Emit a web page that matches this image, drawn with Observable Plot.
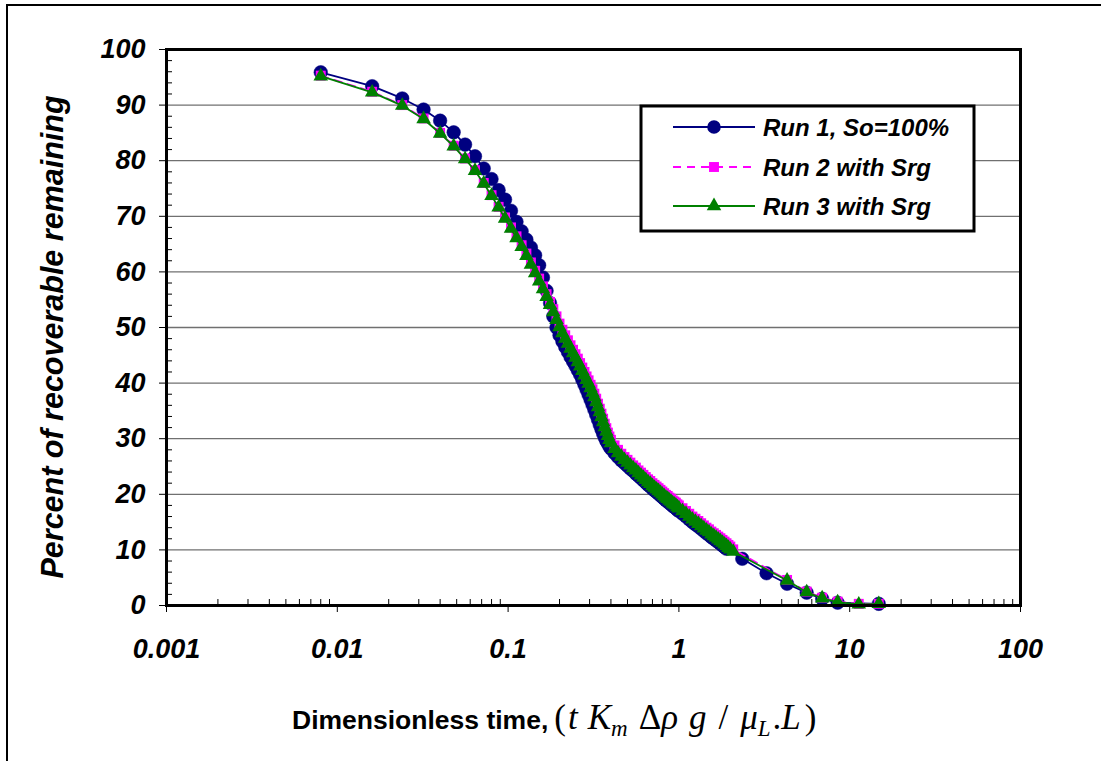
<!DOCTYPE html>
<html><head><meta charset="utf-8">
<script src="https://cdn.jsdelivr.net/npm/d3@7"></script>
<script src="https://cdn.jsdelivr.net/npm/@observablehq/plot@0.6"></script>
<style>
html,body{margin:0;padding:0;background:#fff;overflow:hidden;width:1101px;height:761px;}
#outer{position:absolute;left:6px;top:4px;width:1300px;height:1000px;border:2px solid #000;}
#chart{position:absolute;left:0;top:0;}
</style></head><body>
<div id="outer"></div>
<div id="chart"></div>
<script>
// ---- data ----
const time1 = [0.008,0.016,0.024,0.032,0.04,0.048,0.056,0.064,0.072,0.08,0.088,0.096,0.104,0.112,0.12,0.128,0.136,0.144,0.152,0.16,0.168,0.176,0.184,0.192,0.2,0.208,0.216,0.224,0.232,0.24,0.248,0.256,0.264,0.272,0.28,0.288,0.296,0.304,0.312,0.32,0.328,0.336,0.344,0.352,0.36,0.368,0.376,0.384,0.392,0.4,
  0.42,0.44,0.46,0.48,0.5,0.52,0.54,0.56,0.58,0.6,0.62,0.64,0.66,0.68,0.7,0.72,0.74,0.76,0.78,0.8,0.82,0.84,0.86,0.88,0.9,0.92,0.94,0.96,0.98,1.0,
  1.05,1.1,1.15,1.2,1.25,1.3,1.35,1.4,1.45,1.5,1.55,1.6,1.65,1.7,1.75,1.8,1.85,1.9,
  2.35,3.26,4.3,5.6,6.9,8.5,14.8];
const time23 = [0.008,0.016,0.024,0.032,0.04,0.048,0.056,0.064,0.072,0.08,0.088,0.096,0.104,0.112,0.12,0.128,0.136,0.144,0.152,0.16,0.168,0.176,0.184,0.192,0.2,0.208,0.216,0.224,0.232,0.24,0.248,0.256,0.264,0.272,0.28,0.288,0.296,0.304,0.312,0.32,0.328,0.336,0.344,0.352,0.36,0.368,0.376,0.384,0.392,0.4,
  0.42,0.44,0.46,0.48,0.5,0.52,0.54,0.56,0.58,0.6,0.62,0.64,0.66,0.68,0.7,0.72,0.74,0.76,0.78,0.8,0.82,0.84,0.86,0.88,0.9,0.92,0.94,0.96,0.98,1.0,
  1.05,1.1,1.15,1.2,1.25,1.3,1.35,1.4,1.45,1.5,1.55,1.6,1.65,1.7,1.75,1.8,1.85,1.9,1.95,2.0,
  2.08,4.3,5.6,6.9,8.5,11.3,14.8];
const run1Values = [95.9,93.4,91.2,89.2,87.2,85.1,82.9,80.8,78.6,76.7,
  74.7,73.0,71.0,69.0,67.3,65.8,64.4,63.0,61.2,59.0,
  56.6,54.4,52.0,50.0,48.6,47.5,46.5,45.6,44.7,43.9,
  43.1,42.3,41.5,40.6,39.7,38.8,37.9,37.0,36.1,35.2,
  34.3,33.4,32.5,31.7,30.9,30.2,29.6,29.1,28.6,28.2,
  27.4,26.7,26.1,25.6,25.1,24.6,24.2,23.7,23.3,22.9,
  22.5,22.1,21.7,21.4,21.0,20.7,20.4,20.1,19.8,19.5,
  19.2,18.9,18.7,18.4,18.2,17.9,17.7,17.5,17.2,17.0,
  16.5,16.0,15.5,15.0,14.6,14.2,13.8,13.4,13.0,12.7,
  12.3,12.0,11.7,11.4,11.1,10.8,10.5,10.2,
  8.4,5.8,3.9,2.3,1.2,0.5,0.3];
const run2Values = [95.3,92.4,90.0,87.6,85.0,82.7,80.4,78.3,76.0,73.8,
  71.7,69.8,68.0,66.4,64.8,63.3,61.7,60.2,58.8,57.4,
  56.0,54.6,53.3,52.0,50.7,49.6,48.6,47.7,46.8,46.0,
  45.2,44.4,43.6,42.8,42.0,41.2,40.5,39.7,38.9,38.1,
  37.2,36.3,35.4,34.5,33.6,32.7,31.9,31.1,30.4,29.8,
  28.8,28.0,27.3,26.7,26.2,25.7,25.2,24.8,24.3,23.9,
  23.5,23.1,22.7,22.4,22.0,21.7,21.4,21.1,20.8,20.5,
  20.2,19.9,19.7,19.4,19.2,18.9,18.7,18.5,18.2,18.0,
  17.5,17.0,16.5,16.0,15.6,15.2,14.8,14.4,14.0,13.7,
  13.3,13.0,12.7,12.4,12.1,11.8,11.5,11.2,10.9,10.6,
  10.1,4.6,2.5,1.4,0.7,0.3,0.3];
const run3Values = [95.2,92.3,89.9,87.5,84.9,82.6,80.3,78.2,75.9,73.7,
  71.6,69.6,67.8,66.1,64.5,62.9,61.3,59.8,58.3,56.9,
  55.5,54.1,52.8,51.4,50.1,49.0,48.0,47.1,46.2,45.4,
  44.6,43.8,43.0,42.2,41.4,40.6,39.9,39.1,38.3,37.5,
  36.6,35.7,34.8,33.9,33.0,32.1,31.3,30.5,29.8,29.2,
  28.2,27.4,26.8,26.2,25.7,25.2,24.7,24.3,23.8,23.4,
  23.0,22.6,22.2,21.9,21.5,21.2,20.9,20.6,20.3,20.0,
  19.7,19.4,19.2,18.9,18.7,18.4,18.2,18.0,17.7,17.5,
  17.0,16.5,16.0,15.5,15.1,14.7,14.3,13.9,13.5,13.2,
  12.8,12.5,12.2,11.9,11.6,11.3,11.0,10.7,10.4,10.1,
  9.7,4.5,2.4,1.3,0.6,0.2,0.3];
const seriesNames = ["Run 1, So=100%", "Run 2 with Srg", "Run 3 with Srg"];
const xTicks = [0.001, 0.01, 0.1, 1, 10, 100];
const xTickLabels = ["0.001", "0.01", "0.1", "1", "10", "100"];
const yTicks = [0, 10, 20, 30, 40, 50, 60, 70, 80, 90, 100];
const gridValues = [10, 20, 30, 40, 50, 60, 70, 80, 90];
const xMinorTicks = [2,3,4,5,6,7,8,9].flatMap(m => [0.001, 0.01, 0.1, 1, 10].map(d => m * d));
const yMinorTicks = d3.range(0, 101, 2).filter(v => v % 10 !== 0);

// ---- layout ----
const W = 1101, H = 761, mL = 166, mR = 81, mT = 49, mB = 156;
const innerW = W - mL - mR, innerH = H - mT - mB;
const navy = "#000080", magenta = "#FF00FF", green = "#008000";
const sans = "'Liberation Sans', Arial, sans-serif";
const serif = "'Liberation Serif', 'Times New Roman', serif";

const run1 = time1.map((t, i) => ({t, v: run1Values[i]}));
const run2 = time23.map((t, i) => ({t, v: run2Values[i]}));
const run3 = time23.map((t, i) => ({t, v: run3Values[i]}));

const plot = Plot.plot({
  width: W, height: H,
  marginLeft: mL, marginRight: mR, marginTop: mT, marginBottom: mB,
  style: {fontFamily: sans, fontSize: "27px", fontWeight: "bold", fontStyle: "italic", color: "#000", background: "transparent", overflow: "visible"},
  x: {type: "log", domain: [0.001, 100], label: null},
  y: {domain: [0, 100], label: null},
  marks: [
    Plot.ruleY(gridValues, {stroke: "#707070", strokeWidth: 1.3}),
    Plot.tickX(xMinorTicks, {x: d => d, stroke: "#000", strokeWidth: 1, insetTop: innerH - 6}),
    Plot.tickY(yMinorTicks, {y: d => d, stroke: "#000", strokeWidth: 1, insetRight: innerW - 6}),
    Plot.line(run1, {x: "t", y: "v", stroke: navy, strokeWidth: 1.8}),
    Plot.dot(run1, {x: "t", y: "v", r: 6.8, fill: navy, stroke: navy, strokeWidth: 0.5, symbol: "circle"}),
    Plot.line(run2, {x: "t", y: "v", stroke: magenta, strokeWidth: 1.8, strokeDasharray: "8,6"}),
    Plot.dot(run2, {x: "t", y: "v", r: 5.6, fill: magenta, symbol: "square"}),
    Plot.line(run3, {x: "t", y: "v", stroke: green, strokeWidth: 1.8}),
    Plot.dot(run3, {x: "t", y: "v", r: 5.4, fill: green, symbol: "triangle"}),
    Plot.frame({stroke: "#000", strokeWidth: 3}),
    Plot.axisX({ticks: xTicks, tickFormat: d => xTickLabels[xTicks.indexOf(d)], tickSize: 7, tickPadding: 26, label: null}),
    Plot.axisY({ticks: yTicks, tickFormat: d => String(d), tickSize: 7, tickPadding: 14, label: null})
  ]
});
document.getElementById("chart").appendChild(plot);

const svg = d3.select(plot);
// Y title
svg.append("text")
  .attr("transform", "translate(52,337) rotate(-90)")
  .attr("text-anchor", "middle").attr("dominant-baseline", "central")
  .style("font-family", sans)
  .style("font-size", "30.5px").style("font-weight", "bold").style("font-style", "italic")
  .text("Percent of recoverable remaining");

// X title
const xt = svg.append("text").attr("x", 292).attr("y", 729)
  .attr("text-anchor", "start")
  .style("font-style", "normal").style("font-weight", "normal").style("white-space", "pre");
const parts = [
  {s: "Dimensionless time,", f: sans, z: 26.5, w: "bold"},
  {s: "(", f: serif, z: 35, dx: 6},
  {s: "t", f: serif, z: 35, i: true, dx: 2},
  {s: "K", f: serif, z: 35, i: true, dx: 10},
  {s: "m", f: serif, z: 23, i: true, dy: 7},
  {s: "\u0394", f: serif, z: 35, dy: -7, dx: 11},
  {s: "\u03C1", f: serif, z: 35, i: true},
  {s: "g", f: serif, z: 35, i: true, dx: 11},
  {s: "/", f: serif, z: 35, dx: 12},
  {s: "\u03BC", f: serif, z: 35, i: true, dx: 12},
  {s: "L", f: serif, z: 23, i: true, dy: 7},
  {s: ".", f: serif, z: 35, dy: -7, dx: 2},
  {s: "L", f: serif, z: 35, i: true},
  {s: ")", f: serif, z: 35, dx: 4}
];
parts.forEach(p => {
  const ts = xt.append("tspan").text(p.s)
    .style("font-family", p.f).style("font-size", p.z + "px")
    .style("font-weight", p.w || "normal").style("font-style", p.i ? "italic" : "normal");
  if (p.dy) ts.attr("dy", p.dy);
  if (p.dx) ts.attr("dx", p.dx);
});

// Legend
const lg = svg.append("g").attr("text-anchor", "start");
lg.append("rect").attr("x", 641).attr("y", 106).attr("width", 333).attr("height", 125)
  .attr("fill", "#fff").attr("stroke", "#000").attr("stroke-width", 3);
const legendItems = [
  {name: seriesNames[0], color: navy, sym: d3.symbolCircle, size: Math.PI * 6.8 * 6.8, dash: null},
  {name: seriesNames[1], color: magenta, sym: d3.symbolSquare, size: Math.PI * 5.6 * 5.6, dash: "8,6"},
  {name: seriesNames[2], color: green, sym: d3.symbolTriangle, size: Math.PI * 5.4 * 5.4, dash: null}
];
const rowY = [127, 167, 206];
legendItems.forEach((it, i) => {
  const y = rowY[i];
  lg.append("line").attr("x1", 673).attr("x2", 755).attr("y1", y).attr("y2", y)
    .attr("stroke", it.color).attr("stroke-width", 1.8).attr("stroke-dasharray", it.dash);
  lg.append("path").attr("d", d3.symbol(it.sym, it.size)()).attr("transform", `translate(714,${y})`)
    .attr("fill", it.color);
  lg.append("text").attr("x", 763).attr("y", y + 8.5).attr("text-anchor", "start")
    .style("font-family", sans)
    .style("font-size", "24px").style("font-weight", "bold").style("font-style", "italic")
    .text(it.name);
});
</script>
</body></html>
